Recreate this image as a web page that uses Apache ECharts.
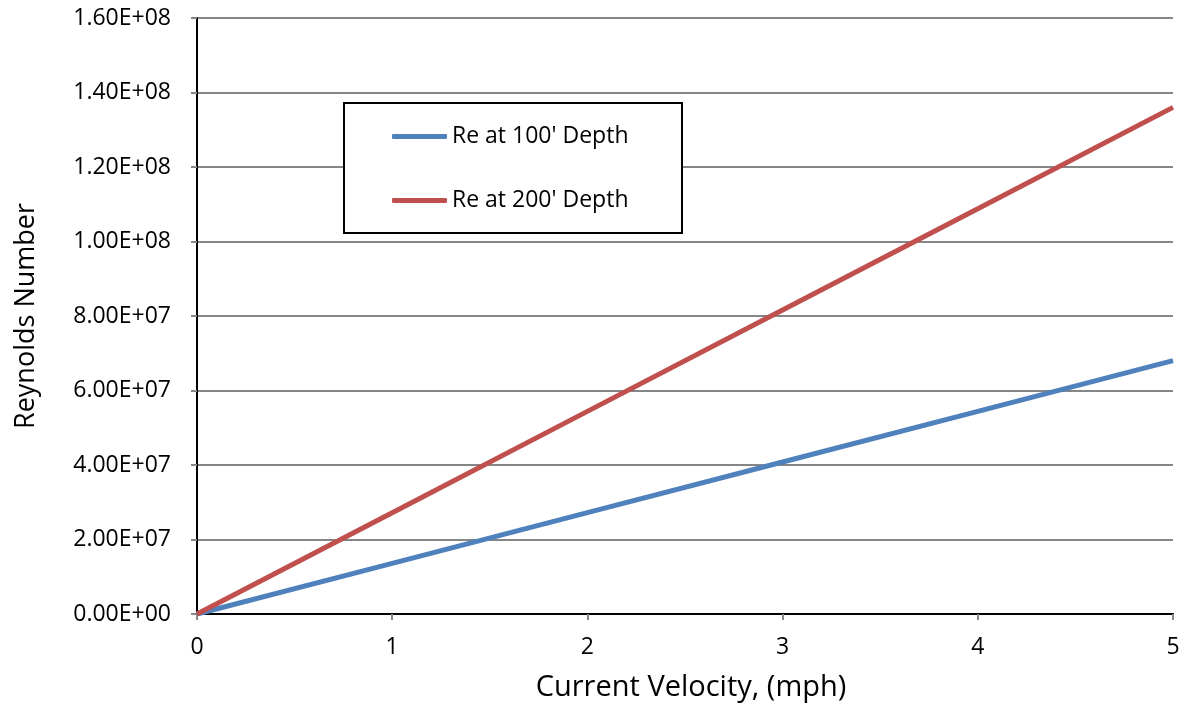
<!DOCTYPE html>
<html>
<head>
<meta charset="utf-8">
<script src="https://cdn.jsdelivr.net/npm/echarts@6/dist/echarts.min.js"></script>
<style>
html,body{margin:0;padding:0;background:#fff;}
#chart{width:1184px;height:710px;}
</style>
</head>
<body>
<div id="chart"></div>
<script>
var velocities = [0, 1, 2, 3, 4, 5];
var re100 = [0, 1.36e7, 2.72e7, 4.08e7, 5.44e7, 6.8e7];
var re200 = [0, 2.72e7, 5.44e7, 8.16e7, 1.088e8, 1.36e8];
var seriesNames = ["Re at 100' Depth", "Re at 200' Depth"];
var xTitle = 'Current Velocity, (mph)';
var yTitle = 'Reynolds Number';

var FONT = 'Open Sans';
function pairs(xs, ys){ return xs.map(function(x,i){ return [x, ys[i]]; }); }
function sci(v){
  if (v === 0) return '0.00E+00';
  var e = Math.floor(Math.log10(Math.abs(v)));
  var m = v / Math.pow(10, e);
  if (Math.round(m*100)/100 >= 10) { m /= 10; e += 1; }
  return m.toFixed(2) + 'E+' + (e < 10 ? '0' + e : e);
}

var chart = echarts.init(document.getElementById('chart'));
chart.setOption({
  backgroundColor: '#fff',
  animation: false,
  grid: {left: 197, right: 11, top: 18, bottom: 96, outerBoundsMode: 'none', containLabel: false},
  xAxis: [{
    type: 'value', min: 0, max: 5, interval: 1,
    name: xTitle, nameLocation: 'middle', nameGap: 59,
    nameTextStyle: {fontFamily: FONT, fontSize: 29, color: '#000', padding: [0, 0, 0, 12]},
    axisLine: {lineStyle: {color: '#868686', width: 2}},
    axisTick: {show: true, length: 6, lineStyle: {color: '#868686', width: 2}},
    axisLabel: {fontFamily: FONT, fontSize: 23, color: '#000', margin: 22},
    splitLine: {show: false}
  }, {
    type: 'value', min: 0, max: 5, position: 'top',
    axisLine: {show: true, lineStyle: {color: '#000', width: 2}},
    axisTick: {show: false}, axisLabel: {show: false}, splitLine: {show: false}
  }],
  yAxis: [{
    type: 'value', min: 0, max: 1.6e8, interval: 2e7,
    name: yTitle, nameLocation: 'middle', nameGap: 157, nameRotate: 90,
    nameTextStyle: {fontFamily: FONT, fontSize: 27, color: '#000'},
    axisLine: {show: true, lineStyle: {color: '#868686', width: 2}},
    axisTick: {show: true, length: 6, lineStyle: {color: '#868686', width: 2}},
    axisLabel: {fontFamily: FONT, fontSize: 23, color: '#000', margin: 26, formatter: sci},
    splitLine: {show: true, lineStyle: {color: '#868686', width: 2}}
  }, {
    type: 'value', min: 0, max: 1.6e8, position: 'right',
    axisLine: {show: true, lineStyle: {color: '#000', width: 2}},
    axisTick: {show: false}, axisLabel: {show: false}, splitLine: {show: false}
  }],
  legend: {
    left: 387, top: 120, orient: 'vertical', itemGap: 41, z: 10,
    icon: 'roundRect', itemWidth: 55, itemHeight: 5,
    textStyle: {fontFamily: FONT, fontSize: 23, color: '#000'},
    data: seriesNames
  },
  graphic: [{
    type: 'rect', left: 343, top: 102, z: 2,
    shape: {width: 338, height: 130},
    style: {fill: '#fff', stroke: '#000', lineWidth: 2}
  }],
  series: [{
    name: seriesNames[0], type: 'line', data: pairs(velocities, re100),
    showSymbol: false, lineStyle: {color: '#4F81BD', width: 5}, itemStyle: {color: '#4F81BD'}, z: 3
  }, {
    name: seriesNames[1], type: 'line', data: pairs(velocities, re200),
    showSymbol: false, lineStyle: {color: '#C0504D', width: 5}, itemStyle: {color: '#C0504D'}, z: 3
  }]
});
</script>
</body>
</html>
